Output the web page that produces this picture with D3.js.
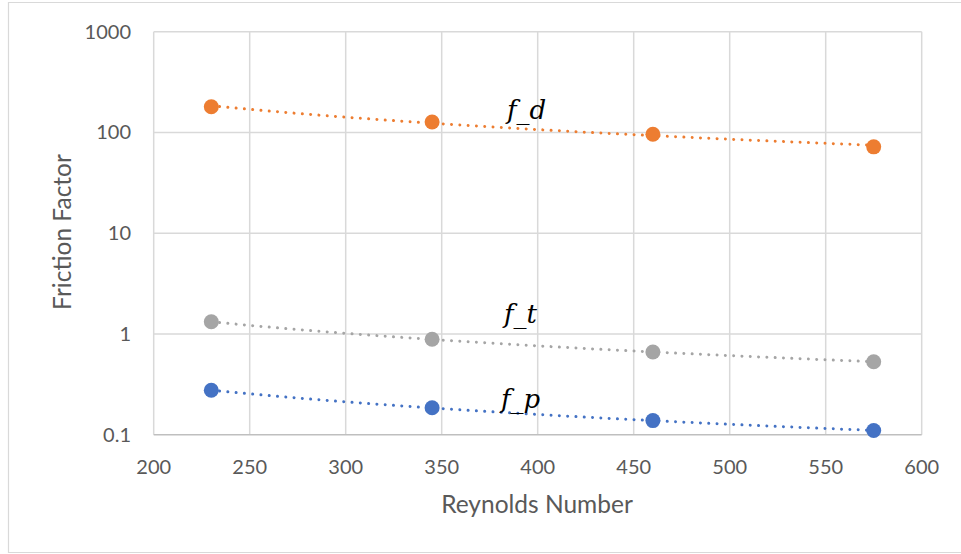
<!DOCTYPE html>
<html>
<head>
<meta charset="utf-8">
<script src="https://cdn.jsdelivr.net/npm/d3@7"></script>
<style>
  body { margin: 0; background: #fff; }
  svg { display: block; }
</style>
</head>
<body>
<script>
// data
var reynolds = [230, 345, 460, 575];
var fD = [180, 127, 96, 72];
var fT = [1.32, 0.885, 0.662, 0.53];
var fP = [0.276, 0.185, 0.138, 0.11];
var seriesNames = ["f_d", "f_t", "f_p"];
var xTicks = [200, 250, 300, 350, 400, 450, 500, 550, 600];
var yTicks = [0.1, 1, 10, 100, 1000];
var yTickLabels = ["0.1", "1", "10", "100", "1000"];

var width = 961, height = 554;
var margin = {top: 31.7, right: 39.3, bottom: 119.3, left: 153.7};

var svg = d3.select("body").append("svg")
  .attr("width", width)
  .attr("height", height);

// chart border (left, top, bottom only visible)
svg.append("path")
  .attr("d", "M961,2.5 H8.5 V552.5 H961")
  .attr("fill", "none")
  .attr("stroke", "#d9d9d9")
  .attr("stroke-width", 1.2);

var x = d3.scaleLinear().domain([200, 600]).range([margin.left, width - margin.right]);
var y = d3.scaleLog().domain([0.1, 1000]).range([height - margin.bottom, margin.top]);

var font = "Lato, 'Open Sans', sans-serif";

// grid
svg.append("g").selectAll("line").data(xTicks).enter().append("line")
  .attr("x1", d => x(d)).attr("x2", d => x(d))
  .attr("y1", y(1000)).attr("y2", y(0.1))
  .attr("stroke", "#d9d9d9").attr("stroke-width", 1.5);

svg.append("g").selectAll("line").data(yTicks.slice(1)).enter().append("line")
  .attr("x1", x(200)).attr("x2", x(600))
  .attr("y1", d => y(d)).attr("y2", d => y(d))
  .attr("stroke", "#d9d9d9").attr("stroke-width", 1.5);

// bottom axis line
svg.append("line")
  .attr("x1", x(200)).attr("x2", x(600))
  .attr("y1", y(0.1)).attr("y2", y(0.1))
  .attr("stroke", "#bfbfbf").attr("stroke-width", 1.5);

// tick labels
svg.append("g").selectAll("text").data(xTicks).enter().append("text")
  .attr("x", d => x(d)).attr("y", 474)
  .attr("text-anchor", "middle")
  .attr("fill", "#595959")
  .style("font-family", font).style("font-size", "20px")
  .text(d => d);

svg.append("g").selectAll("text").data(yTicks).enter().append("text")
  .attr("x", 131).attr("y", d => y(d))
  .attr("dy", "0.35em")
  .attr("text-anchor", "end")
  .attr("fill", "#595959")
  .style("font-family", font).style("font-size", "20px")
  .text((d, i) => yTickLabels[i]);

// axis titles
svg.append("text")
  .attr("x", 537).attr("y", 513)
  .attr("text-anchor", "middle")
  .attr("fill", "#595959")
  .style("font-family", font).style("font-size", "24.5px")
  .text("Reynolds Number");

svg.append("text")
  .attr("transform", "translate(71,232) rotate(-90)")
  .attr("text-anchor", "middle")
  .attr("fill", "#595959")
  .style("font-family", font).style("font-size", "24.5px")
  .text("Friction Factor");

// series
var series = [
  {name: seriesNames[0], values: fD, color: "#ED7D31"},
  {name: seriesNames[1], values: fT, color: "#A5A5A5"},
  {name: seriesNames[2], values: fP, color: "#4472C4"}
];

// power trendline (least squares on log-log), like Excel
function powerFit(xs, ys) {
  var lx = xs.map(Math.log), ly = ys.map(Math.log);
  var mx = d3.mean(lx), my = d3.mean(ly);
  var b = d3.sum(lx, (v, i) => (v - mx) * (ly[i] - my)) / d3.sum(lx, v => (v - mx) * (v - mx));
  var a = Math.exp(my - b * mx);
  return v => a * Math.pow(v, b);
}

var trendLine = d3.line().x(d => x(d[0])).y(d => y(d[1]));
var xs = d3.range(reynolds[0], reynolds[reynolds.length - 1] + 0.01, 5);

series.forEach(function(s) {
  var f = powerFit(reynolds, s.values);
  svg.append("path")
    .datum(xs.map(v => [v, f(v)]))
    .attr("d", trendLine)
    .attr("fill", "none")
    .attr("stroke", s.color)
    .attr("stroke-width", 3)
    .attr("stroke-linecap", "round")
    .attr("stroke-dasharray", "0.01 8.3");

  svg.append("g").selectAll("circle").data(s.values).enter().append("circle")
    .attr("cx", (d, i) => x(reynolds[i]))
    .attr("cy", d => y(d))
    .attr("r", 7.5)
    .attr("fill", s.color);
});

// series labels
var labelPos = [[507, 119], [504, 323], [501, 408]];
svg.append("g").selectAll("text").data(series).enter().append("text")
  .attr("x", (d, i) => labelPos[i][0])
  .attr("y", (d, i) => labelPos[i][1])
  .attr("fill", "#000")
  .style("font-family", "'DejaVu Serif', serif")
  .style("font-style", "italic")
  .style("font-size", "26px")
  .text(d => d.name);
</script>
</body>
</html>
